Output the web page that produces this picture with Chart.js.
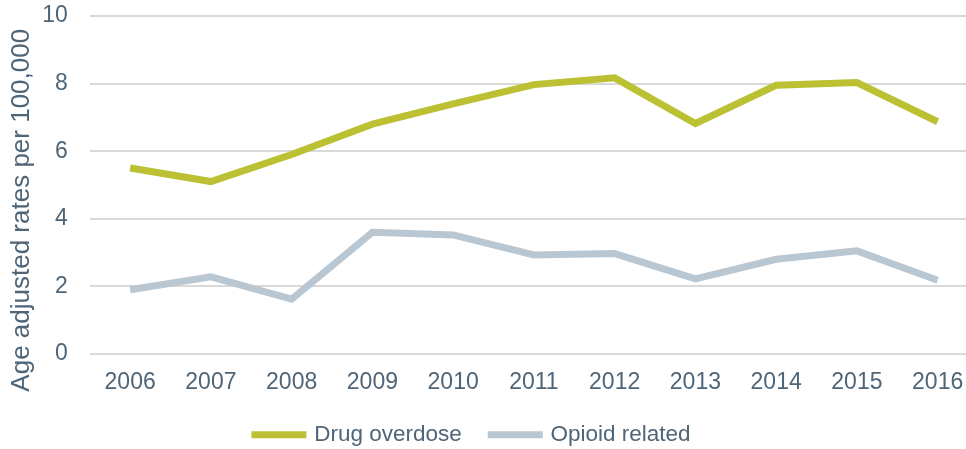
<!DOCTYPE html>
<html>
<head>
<meta charset="utf-8">
<script src="https://cdn.jsdelivr.net/npm/chart.js@4/dist/chart.umd.min.js"></script>
<style>
  html, body { margin: 0; padding: 0; background: #fff; overflow: hidden; }
  #wrap { width: 980px; height: 449px; }
</style>
</head>
<body>
<div id="wrap"><canvas id="chart"></canvas></div>
<script>
let years = ['2006', '2007', '2008', '2009', '2010', '2011', '2012', '2013', '2014', '2015', '2016'];
let drugOverdose = [5.5, 5.1, 5.9, 6.8, 7.4, 7.97, 8.17, 6.82, 7.95, 8.03, 6.87];
let opioidRelated = [1.9, 2.28, 1.62, 3.6, 3.52, 2.93, 2.97, 2.22, 2.8, 3.05, 2.18];
let yTicks = [0, 2, 4, 6, 8, 10];

let textColor = '#4f6578';
Chart.defaults.font.family = '"Liberation Sans", Arial, sans-serif';
Chart.defaults.color = textColor;

// nudge legend left so it sits where the original one was
let legendShift = {
    id: 'legendShift',
    afterLayout(chart) {
        chart.legend.left -= 13;
        chart.legend.right -= 13;
    }
};

let ctx = document.getElementById('chart').getContext('2d');
let chart = new Chart(ctx, {
    type: 'line',
    data: {
        labels: years,
        datasets: [{
            label: 'Drug overdose',
            data: drugOverdose,
            borderColor: '#bcc133',
            backgroundColor: '#bcc133',
            borderWidth: 7,
            pointRadius: 0,
            tension: 0
        }, {
            label: 'Opioid related',
            data: opioidRelated,
            borderColor: '#b9c7d3',
            backgroundColor: '#b9c7d3',
            borderWidth: 7,
            pointRadius: 0,
            tension: 0
        }]
    },
    plugins: [legendShift],
    options: {
        responsive: true,
        maintainAspectRatio: false,
        animation: false,
        layout: { padding: { top: 0, left: 6, right: 2, bottom: -7 } },
        plugins: {
            tooltip: { enabled: false },
            legend: {
                position: 'bottom',
                labels: {
                    usePointStyle: true,
                    pointStyleWidth: 48,
                    boxHeight: 7,
                    padding: 17,
                    font: { size: 22.5 },
                    color: textColor,
                    generateLabels: (c) => Chart.defaults.plugins.legend.labels.generateLabels(c)
                        .map(item => Object.assign(item, { text: item.text + '  ', pointStyle: 'line', lineWidth: 7, lineCap: 'square' }))
                }
            }
        },
        scales: {
            x: {
                offset: true,
                grid: { display: false },
                border: { display: false },
                ticks: { font: { size: 23 }, color: textColor, padding: 7, maxRotation: 0, autoSkip: false },
                afterFit: (axis) => { axis.height += 3; }
            },
            y: {
                min: 0,
                max: 10,
                afterBuildTicks: (axis) => { axis.ticks = yTicks.map(v => ({ value: v })); },
                afterFit: (axis) => {
                    axis.width -= 17;
                    axis.paddingTop = 16;
                    axis.paddingBottom = 0;
                },
                grid: { color: '#d9d9d9', lineWidth: 2, drawTicks: false },
                border: { display: false },
                ticks: { font: { size: 23 }, color: textColor, padding: 22 },
                title: {
                    display: true,
                    text: 'Age adjusted rates per 100,000       ',
                    font: { size: 26 },
                    color: textColor,
                    padding: 0
                }
            }
        }
    }
});
</script>
</body>
</html>
